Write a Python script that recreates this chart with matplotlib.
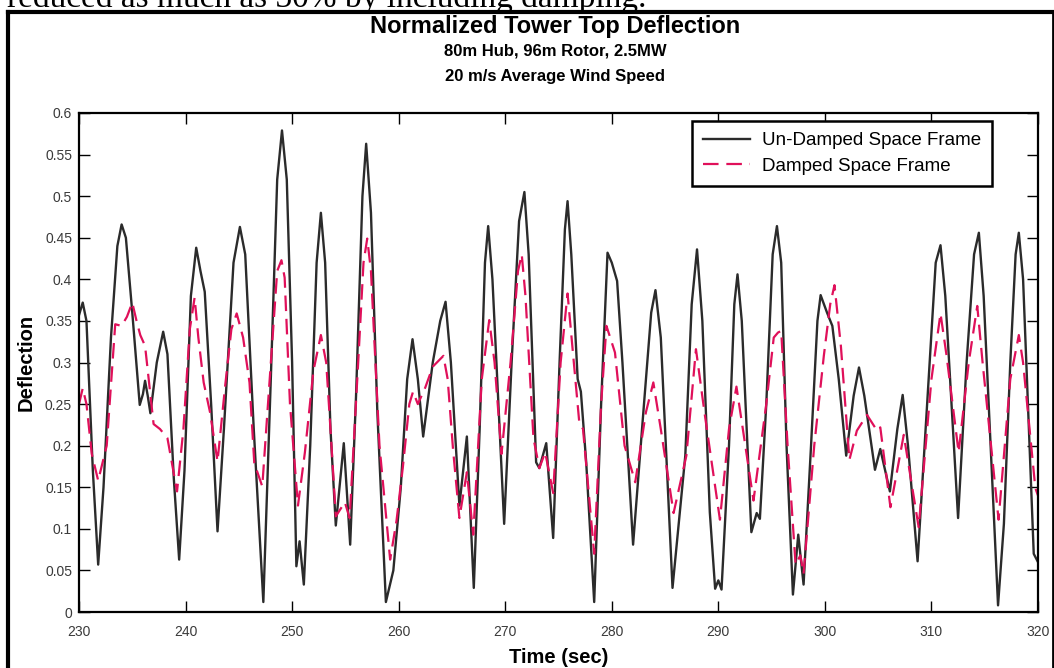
import matplotlib
matplotlib.use('Agg')
import matplotlib.pyplot as plt
from matplotlib.lines import Line2D

# Un-damped space frame (time, deflection)
t_undamped = [230.0, 230.35, 230.7, 231.3, 231.8, 232.3, 233.0, 233.6, 234.0, 234.4,
              235.0, 235.7, 236.0, 236.2, 236.45, 236.7, 237.3, 237.9, 238.3, 238.9,
              239.4, 239.9, 240.5, 241.0, 241.4, 241.8, 242.4, 243.0, 243.6, 244.5,
              245.1, 245.6, 246.4, 247.3, 248.0, 248.6, 249.05, 249.5, 250.0, 250.4,
              250.7, 251.1, 251.7, 252.3, 252.7, 253.1, 253.6, 254.1, 254.85, 255.45,
              256.0, 256.6, 256.95, 257.4, 258.0, 258.8, 259.5, 260.2, 260.8, 261.3,
              261.8, 262.3, 263.2, 263.9, 264.4, 264.9, 265.7, 266.4, 267.05, 267.6,
              268.1, 268.4, 268.8, 269.9, 270.6, 271.3, 271.8, 272.2, 272.9, 273.2,
              273.85, 274.5, 275.1, 275.6, 275.85, 276.2, 276.8, 277.1, 277.6, 278.35,
              279.0, 279.6, 280.0, 280.5, 281.0, 282.0, 282.9, 283.7, 284.1, 284.6,
              285.7, 286.9, 287.5, 288.0, 288.5, 289.2, 289.7, 290.0, 290.3, 291.0,
              291.5, 291.8, 292.2, 293.1, 293.6, 293.9, 294.5, 295.1, 295.5, 295.9,
              296.4, 297.0, 297.5, 298.0, 298.7, 299.3, 299.6, 300.2, 300.7, 301.3,
              302.0, 302.7, 303.2, 303.7, 304.7, 305.2, 306.1, 306.8, 307.3, 307.8,
              308.7, 309.6, 310.4, 310.85, 311.3, 312.5, 313.3, 314.0, 314.45, 314.9,
              316.25, 316.8, 317.4, 317.9, 318.2, 318.6, 319.6, 320.0]
v_undamped = [0.357, 0.372, 0.35, 0.17, 0.057, 0.15, 0.33, 0.44, 0.466, 0.45,
              0.36, 0.249, 0.262, 0.278, 0.26, 0.239, 0.3, 0.337, 0.31, 0.16,
              0.063, 0.17, 0.38, 0.438, 0.41, 0.385, 0.25, 0.097, 0.22, 0.42,
              0.463, 0.43, 0.22, 0.012, 0.28, 0.52, 0.579, 0.52, 0.3, 0.055,
              0.085, 0.033, 0.2, 0.42, 0.48, 0.42, 0.22, 0.104, 0.203, 0.081,
              0.26, 0.5, 0.563, 0.48, 0.24, 0.012, 0.05, 0.15, 0.28, 0.328,
              0.28, 0.211, 0.3, 0.35, 0.373, 0.3, 0.128, 0.211, 0.029, 0.22,
              0.42, 0.464, 0.4, 0.106, 0.3, 0.47, 0.505, 0.43, 0.18, 0.173,
              0.203, 0.089, 0.3, 0.46, 0.494, 0.43, 0.28, 0.265, 0.18, 0.012,
              0.25, 0.432, 0.42, 0.398, 0.3, 0.081, 0.23, 0.36, 0.387, 0.33,
              0.029, 0.188, 0.37, 0.436, 0.35, 0.12, 0.028, 0.038, 0.027, 0.2,
              0.37, 0.406, 0.35, 0.096, 0.119, 0.112, 0.25, 0.43, 0.464, 0.42,
              0.2, 0.021, 0.093, 0.033, 0.2, 0.35, 0.381, 0.36, 0.344, 0.28,
              0.188, 0.26, 0.294, 0.26, 0.171, 0.196, 0.145, 0.22, 0.261, 0.2,
              0.061, 0.25, 0.42, 0.441, 0.38, 0.113, 0.3, 0.43, 0.456, 0.38,
              0.008, 0.106, 0.3, 0.43, 0.456, 0.4, 0.07, 0.06]

# Damped space frame
t_damped = [230.0, 230.35, 230.7, 231.2, 231.8, 232.6, 233.4, 234.0, 234.5, 235.0,
            235.4, 235.75, 236.2, 237.0, 237.6, 238.3, 239.2, 239.8, 240.4, 240.85,
            241.2, 241.7, 242.3, 243.0, 243.7, 244.3, 244.8, 245.4, 246.0, 246.45,
            247.2, 248.0, 248.6, 249.0, 249.3, 249.8, 250.55, 251.2, 252.0, 252.7,
            253.2, 253.6, 254.1, 254.95, 255.4, 256.2, 256.7, 257.05, 257.4, 258.2,
            259.2, 259.8, 260.4, 261.0, 261.35, 261.8, 262.5, 263.2, 264.2, 264.6,
            265.1, 265.7, 266.4, 267.0, 267.8, 268.5, 269.0, 269.65, 270.5, 271.2,
            271.55, 271.9, 272.65, 273.2, 273.75, 274.5, 275.2, 275.85, 276.3, 276.95,
            277.3, 278.35, 279.0, 279.5, 280.3, 281.2, 282.2, 283.2, 283.9, 284.6,
            285.8, 287.0, 287.9, 288.7, 290.15, 291.0, 291.7, 292.3, 293.3, 294.5,
            295.2, 295.6, 295.9, 296.5, 297.25, 297.7, 298.0, 299.0, 299.9, 300.5,
            300.9, 301.5, 302.3, 303.0, 303.95, 304.9, 305.2, 306.15, 307.4, 308.8,
            310.0, 310.85, 311.4, 312.55, 313.5, 314.3, 314.8, 316.3, 317.4, 318.2,
            318.6, 319.75, 320.0]
v_damped = [0.25, 0.269, 0.25, 0.19, 0.158, 0.2, 0.346, 0.344, 0.355, 0.372,
            0.35, 0.333, 0.32, 0.226, 0.22, 0.209, 0.145, 0.22, 0.34, 0.378,
            0.33, 0.276, 0.24, 0.181, 0.27, 0.34, 0.359, 0.33, 0.276, 0.179,
            0.151, 0.3, 0.41, 0.423, 0.402, 0.25, 0.128, 0.192, 0.29, 0.333,
            0.3, 0.22, 0.115, 0.132, 0.113, 0.3, 0.42, 0.449, 0.41, 0.2,
            0.063, 0.11, 0.175, 0.25, 0.265, 0.25, 0.27, 0.295, 0.308, 0.28,
            0.196, 0.113, 0.168, 0.093, 0.28, 0.351, 0.3, 0.19, 0.3, 0.41,
            0.43, 0.38, 0.209, 0.173, 0.192, 0.143, 0.3, 0.383, 0.32, 0.228,
            0.22, 0.07, 0.25, 0.344, 0.312, 0.2, 0.156, 0.24, 0.276, 0.22,
            0.119, 0.188, 0.316, 0.24, 0.111, 0.22, 0.271, 0.22, 0.134, 0.25,
            0.33, 0.336, 0.338, 0.2, 0.057, 0.068, 0.046, 0.2, 0.308, 0.37,
            0.393, 0.32, 0.183, 0.218, 0.237, 0.218, 0.222, 0.126, 0.213, 0.102,
            0.28, 0.359, 0.31, 0.192, 0.3, 0.368, 0.3, 0.111, 0.28, 0.333,
            0.3, 0.149, 0.14]

x_ticks = [230, 240, 250, 260, 270, 280, 290, 300, 310, 320]
y_ticks = [0, 0.05, 0.1, 0.15, 0.2, 0.25, 0.3, 0.35, 0.4, 0.45, 0.5, 0.55, 0.6]
y_ticklabels = ['0', '0.05', '0.1', '0.15', '0.2', '0.25', '0.3', '0.35', '0.4',
                '0.45', '0.5', '0.55', '0.6']

plt.rcParams['font.family'] = ['Liberation Sans', 'DejaVu Sans']

W, H = 1054, 668
fig = plt.figure(figsize=(W / 100, H / 100), dpi=100)
# axes box in pixels: left 79, right 1038, top 113, bottom 612
ax = fig.add_axes([79 / W, 1 - 612 / H, (1038 - 79) / W, (612 - 113) / H])

ax.plot(t_undamped, v_undamped, color='#2b2b2b', lw=1.7, solid_joinstyle='round',
        label='Un-Damped Space Frame')
ax.plot(t_damped, v_damped, color='#e0105a', lw=1.6, dashes=(7, 3.5),
        label='Damped Space Frame')

ax.set_xlim(230, 320)
ax.set_ylim(0, 0.6)
ax.set_xticks(x_ticks)
ax.set_yticks(y_ticks)
ax.set_yticklabels(y_ticklabels)
ax.tick_params(direction='in', length=8, width=1, top=True, right=True,
               labelsize=10, labelcolor='#3a3a3a')
ax.tick_params(axis='x', pad=9.5)
ax.tick_params(axis='y', pad=5)
for s in ax.spines.values():
    s.set_linewidth(1.6)

ax.set_xlabel('Time (sec)', fontsize=14.5, fontweight='bold', labelpad=6)
ax.set_ylabel('Deflection', fontsize=14.5, fontweight='bold', labelpad=7)

leg = ax.legend(loc='upper right', bbox_to_anchor=(0.952, 0.984), borderaxespad=0,
                fontsize=13.5, frameon=True, fancybox=False, handlelength=2.5,
                handletextpad=0.6, borderpad=0.6, labelspacing=0.45)
leg.get_frame().set_edgecolor('black')
leg.get_frame().set_linewidth(1.8)
leg.get_frame().set_alpha(1)

# titles
fig.text(0.527, 1 - 26 / H, 'Normalized Tower Top Deflection', ha='center', va='center',
         fontsize=17, fontweight='bold')
fig.text(0.527, 1 - 51 / H, '80m Hub, 96m Rotor, 2.5MW', ha='center', va='center',
         fontsize=12, fontweight='bold')
fig.text(0.527, 1 - 76 / H, '20 m/s Average Wind Speed', ha='center', va='center',
         fontsize=12, fontweight='bold')

# cut off line of text from the page above the figure
fig.text(7 / W, 1 - 6.5 / H, 'reduced as much as 30% by including damping.',
         ha='left', va='baseline', fontsize=24, family='Liberation Serif')

# page frame around the chart
yb = 1 - 12 / H
xl, xr = 8 / W, 1053 / W
fig.add_artist(Line2D([xl, xl], [0, yb], color='black', lw=3))
fig.add_artist(Line2D([xl, xr], [yb, yb], color='black', lw=3))
fig.add_artist(Line2D([xr, xr], [0, yb], color='black', lw=2))

fig.savefig('out.png', dpi=100)
